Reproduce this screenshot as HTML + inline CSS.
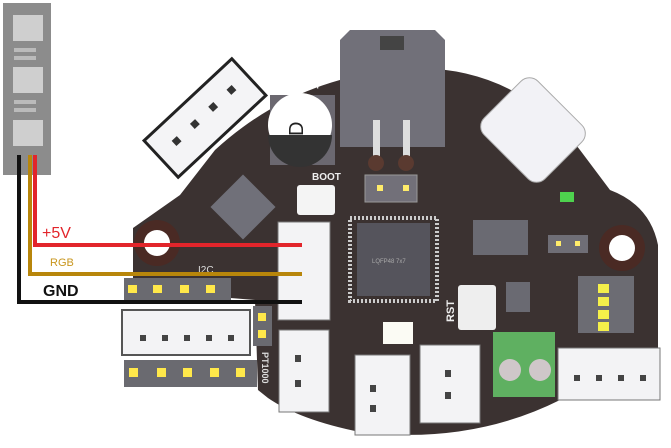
<!DOCTYPE html>
<html><head><style>
html,body{margin:0;padding:0;background:#fff;width:671px;height:448px;overflow:hidden}
svg{display:block}
text{font-family:"Liberation Sans",sans-serif}
</style></head><body>
<svg width="671" height="448" viewBox="0 0 671 448" xmlns="http://www.w3.org/2000/svg">
<rect width="671" height="448" fill="#fff"/>
<!-- board -->
<path d="M133 228 L180 195 L215 150 Q300 72 420 68 Q520 70 580 150 L610 190 Q650 205 658 245 L658 368 L560 400 Q470 445 360 432 Q300 420 268 398 L258 390 L255 300 L133 290 Z" fill="#3b3231"/>
<!-- LED strip -->
<rect x="3" y="3" width="48" height="172" fill="#8c8c8c"/>
<rect x="13" y="15" width="30" height="26" fill="#cfcfcf"/>
<rect x="13" y="67" width="30" height="26" fill="#cfcfcf"/>
<rect x="13" y="120" width="30" height="26" fill="#cfcfcf"/>
<rect x="14" y="48" width="22" height="4" fill="#bbb"/><rect x="14" y="56" width="22" height="4" fill="#bbb"/>
<rect x="14" y="100" width="22" height="4" fill="#bbb"/><rect x="14" y="108" width="22" height="4" fill="#bbb"/>
<text x="42" y="238" font-size="16" fill="#e2252b">+5V</text>
<text x="50" y="266" font-size="11" fill="#c8961e" font-family="Liberation Serif,serif">RGB</text>
<text x="43" y="296" font-size="16" font-weight="bold" fill="#111">GND</text>
<!-- mounting holes -->
<circle cx="157" cy="243" r="23" fill="#4a2a24"/><circle cx="157" cy="243" r="13" fill="#fff"/>
<circle cx="622" cy="248" r="23" fill="#4a2a24"/><circle cx="622" cy="248" r="13" fill="#fff"/>
<!-- angled connector top-left -->
<g transform="rotate(-43 205 118)">
<rect x="145" y="93" width="120" height="50" fill="#f4f4f6" stroke="#222" stroke-width="3"/>
<rect x="165" y="112" width="7" height="7" fill="#333"/><rect x="190" y="112" width="7" height="7" fill="#333"/><rect x="215" y="112" width="7" height="7" fill="#333"/><rect x="240" y="112" width="7" height="7" fill="#333"/>
</g>
<!-- capacitor -->
<rect x="270" y="95" width="65" height="70" fill="#6b6870"/>
<circle cx="300" cy="125" r="32" fill="#fff"/>
<path d="M268 135 A32 32 0 0 0 332 135 Z" fill="#333"/>
<text x="288" y="135" font-size="20" fill="#222" transform="rotate(-90 296 128)">D</text>
<text x="313" y="90" font-size="16" fill="#fff">+</text>
<!-- power connector -->
<path d="M340 40 L350 30 L435 30 L445 40 L445 147 L340 147 Z" fill="#717079"/>
<rect x="380" y="36" width="24" height="14" fill="#444"/>
<rect x="373" y="120" width="7" height="40" fill="#ddd"/><rect x="403" y="120" width="7" height="40" fill="#ddd"/>
<circle cx="376" cy="163" r="8" fill="#5a3a30"/><circle cx="406" cy="163" r="8" fill="#5a3a30"/>
<rect x="365" y="175" width="52" height="27" fill="#727079" stroke="#999"/>
<rect x="377" y="185" width="6" height="6" fill="#ffec6a"/><rect x="403" y="185" width="6" height="6" fill="#ffec6a"/>
<text x="312" y="180" font-size="10" font-weight="bold" fill="#eee">BOOT</text>
<!-- USB-C -->
<g transform="rotate(45 533 130)">
<rect x="490" y="92" width="86" height="76" rx="12" fill="#f2f2f6" stroke="#aaa"/>
</g>
<!-- small chips -->
<g transform="rotate(-45 243 207)"><rect x="220" y="184" width="46" height="46" fill="#707079"/></g>
<rect x="357" y="223" width="73" height="73" fill="#55545c"/>
<rect x="350" y="218" width="87" height="83" fill="none" stroke="#ccc" stroke-dasharray="2 2" stroke-width="4"/>
<text x="372" y="263" font-size="6" fill="#aaa">LQFP48 7x7</text>
<rect x="473" y="220" width="55" height="35" fill="#6a6a72"/>
<rect x="506" y="282" width="24" height="30" fill="#6a6a72"/>
<rect x="548" y="235" width="40" height="18" fill="#6f6e76"/>
<rect x="556" y="241" width="5" height="5" fill="#ffec6a"/><rect x="575" y="241" width="5" height="5" fill="#ffec6a"/>
<rect x="560" y="192" width="14" height="10" fill="#4ed24e"/>
<!-- buttons -->
<rect x="297" y="185" width="38" height="30" rx="3" fill="#f4f4f4"/>
<rect x="458" y="285" width="38" height="45" rx="3" fill="#eee"/>
<text x="446" y="322" font-size="11" font-weight="bold" fill="#eee" transform="rotate(-90 450 318)">RST</text>
<text x="198" y="273" font-size="10" fill="#ddd">I2C</text>
<!-- DIP -->
<rect x="578" y="276" width="56" height="57" fill="#6c6c73"/>
<rect x="598" y="284" width="11" height="9" fill="#f5f04a"/><rect x="598" y="297" width="11" height="9" fill="#f5f04a"/><rect x="598" y="310" width="11" height="9" fill="#f5f04a"/><rect x="598" y="322" width="11" height="9" fill="#f5f04a"/>
<!-- green terminal -->
<rect x="493" y="332" width="62" height="65" fill="#5fb061"/>
<circle cx="510" cy="370" r="11" fill="#cfc7c9"/><circle cx="540" cy="370" r="11" fill="#cfc7c9"/>
<!-- white connectors -->
<rect x="278" y="222" width="52" height="98" fill="#f3f3f5" stroke="#777"/>
<rect x="279" y="330" width="50" height="82" fill="#f3f3f5" stroke="#777"/>
<rect x="295" y="355" width="6" height="7" fill="#444"/><rect x="295" y="380" width="6" height="7" fill="#444"/>
<rect x="122" y="310" width="128" height="45" fill="#f3f3f5" stroke="#555" stroke-width="2"/>
<rect x="140" y="335" width="6" height="6" fill="#444"/><rect x="162" y="335" width="6" height="6" fill="#444"/><rect x="184" y="335" width="6" height="6" fill="#444"/><rect x="206" y="335" width="6" height="6" fill="#444"/><rect x="228" y="335" width="6" height="6" fill="#444"/>
<rect x="355" y="355" width="55" height="80" fill="#f3f3f5" stroke="#777"/>
<rect x="370" y="385" width="6" height="7" fill="#444"/><rect x="370" y="405" width="6" height="7" fill="#444"/>
<rect x="420" y="345" width="60" height="78" fill="#f3f3f5" stroke="#777"/>
<rect x="445" y="370" width="6" height="7" fill="#444"/><rect x="445" y="392" width="6" height="7" fill="#444"/>
<rect x="558" y="348" width="102" height="52" fill="#f3f3f5" stroke="#777"/>
<rect x="574" y="375" width="6" height="6" fill="#444"/><rect x="596" y="375" width="6" height="6" fill="#444"/><rect x="618" y="375" width="6" height="6" fill="#444"/><rect x="640" y="375" width="6" height="6" fill="#444"/>
<rect x="383" y="322" width="30" height="22" fill="#fbfbf4"/>
<!-- headers -->
<rect x="124" y="278" width="107" height="23" fill="#6a6a70"/>
<rect x="128" y="285" width="9" height="8" fill="#ffe84a"/><rect x="153" y="285" width="9" height="8" fill="#ffe84a"/><rect x="180" y="285" width="9" height="8" fill="#ffe84a"/><rect x="206" y="285" width="9" height="8" fill="#ffe84a"/>
<rect x="124" y="360" width="133" height="27" fill="#6a6a70"/>
<rect x="129" y="368" width="9" height="9" fill="#ffe84a"/><rect x="157" y="368" width="9" height="9" fill="#ffe84a"/><rect x="183" y="368" width="9" height="9" fill="#ffe84a"/><rect x="210" y="368" width="9" height="9" fill="#ffe84a"/><rect x="236" y="368" width="9" height="9" fill="#ffe84a"/>
<rect x="253" y="306" width="19" height="40" fill="#6a6a70"/>
<rect x="258" y="313" width="8" height="8" fill="#ffe84a"/><rect x="258" y="330" width="8" height="8" fill="#ffe84a"/>
<text x="262" y="352" font-size="9" font-weight="bold" fill="#ddd" transform="rotate(90 262 352)">PT1000</text>
<!-- wires on top -->
<polyline points="35,155 35,245 302,245" fill="none" stroke="#e2252b" stroke-width="4"/>
<polyline points="30,155 30,274 302,274" fill="none" stroke="#b8860b" stroke-width="4"/>
<polyline points="19,155 19,302 302,302" fill="none" stroke="#111" stroke-width="4"/>
</svg>
</body></html>
